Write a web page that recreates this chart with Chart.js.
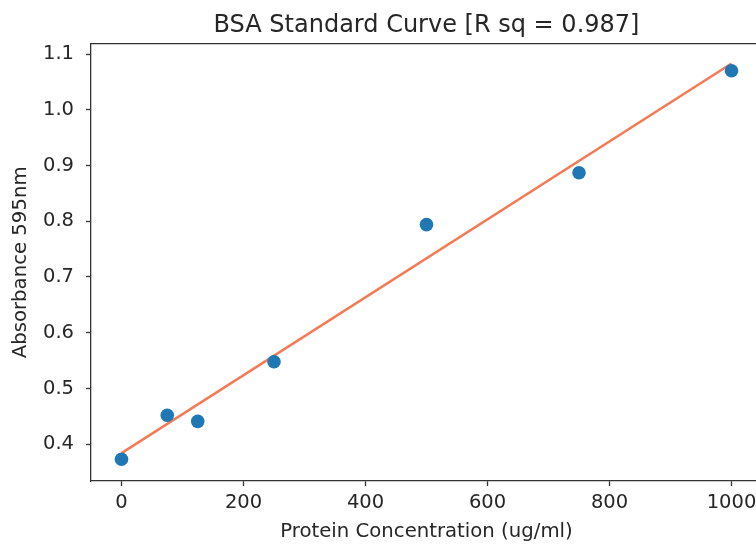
<!DOCTYPE html>
<html>
<head>
<meta charset="utf-8">
<script src="https://cdn.jsdelivr.net/npm/chart.js@4"></script>
<style>
  html, body { margin: 0; padding: 0; overflow: hidden; background: #fff; }
  #wrap { width: 853px; height: 544px; }
</style>
</head>
<body>
<div id="wrap"><canvas id="c" width="853" height="544"></canvas></div>
<script>
// Data
const concentrations = [0, 75, 125, 250, 500, 750, 1000];
const absorbance = [0.373, 0.452, 0.441, 0.548, 0.794, 0.887, 1.070];
const fitX = [0, 1000];
const fitY = [0.384, 1.083];
const xTicks = [0, 200, 400, 600, 800, 1000];
const yTicks = [0.4, 0.5, 0.6, 0.7, 0.8, 0.9, 1.0, 1.1];
const titleText = 'BSA Standard Curve [R sq = 0.987]';
const xLabel = 'Protein Concentration (ug/ml)';
const yLabel = 'Absorbance 595nm';

const FONT = "'DejaVu Sans', sans-serif";
const TEXT = '#262626';
const AXIS = '#333333';

const framePlugin = {
  id: 'frame',
  afterDraw(chart) {
    const a = chart.chartArea, ctx = chart.ctx;
    ctx.save();
    ctx.strokeStyle = AXIS;
    ctx.lineWidth = 1.3;
    ctx.beginPath();
    ctx.moveTo(a.left, a.top);
    ctx.lineTo(a.right, a.top);
    ctx.lineTo(a.right, a.bottom);
    ctx.stroke();
    ctx.restore();
  }
};

new Chart(document.getElementById('c'), {
  type: 'scatter',
  data: {
    datasets: [
      {
        label: 'data',
        data: concentrations.map((x, i) => ({x: x, y: absorbance[i]})),
        backgroundColor: '#1f77b4',
        borderColor: '#1f77b4',
        pointRadius: 6.8,
        pointHoverRadius: 6.8,
        borderWidth: 0,
        order: 0
      },
      {
        label: 'fit',
        data: fitX.map((x, i) => ({x: x, y: fitY[i]})),
        showLine: true,
        borderColor: '#f47a55',
        backgroundColor: '#f47a55',
        borderWidth: 2.5,
        pointRadius: 0,
        fill: false,
        order: 1
      }
    ]
  },
  options: {
    responsive: false,
    animation: false,
    layout: { padding: { left: 0, right: 91, top: 0, bottom: 0 } },
    plugins: {
      legend: { display: false },
      tooltip: { enabled: false },
      title: {
        display: true,
        fullSize: false,
        text: titleText,
        color: TEXT,
        font: { family: FONT, size: 24, weight: 'normal', lineHeight: 1.2 },
        padding: { top: 11.5, bottom: 3.4 }
      }
    },
    scales: {
      x: {
        type: 'linear',
        min: -50,
        max: 1050,
        afterBuildTicks: (s) => { s.ticks = xTicks.map(v => ({value: v})); },
        afterFit: (s) => { s.height = 63; },
        grid: { display: true, drawOnChartArea: false, drawTicks: true, tickLength: 5, tickWidth: 1.3, tickColor: AXIS },
        border: { display: true, color: AXIS, width: 1.3 },
        ticks: {
          color: TEXT,
          padding: 5,
          maxRotation: 0,
          font: { family: FONT, size: 19.5, lineHeight: 1.2 },
          callback: (v) => String(v)
        },
        title: {
          display: true,
          text: xLabel,
          color: TEXT,
          font: { family: FONT, size: 19.7, lineHeight: 1.2 },
          padding: { top: 0, bottom: 0 }
        }
      },
      y: {
        type: 'linear',
        min: 0.334,
        max: 1.1185,
        afterBuildTicks: (s) => { s.ticks = yTicks.map(v => ({value: v})); },
        afterFit: (s) => { s.width = 91; },
        grid: { display: true, drawOnChartArea: false, drawTicks: true, tickLength: 5, tickWidth: 1.3, tickColor: AXIS },
        border: { display: true, color: AXIS, width: 1.3 },
        ticks: {
          color: TEXT,
          padding: 12,
          font: { family: FONT, size: 19.5, lineHeight: 1.0 },
          callback: (v) => Number(v).toFixed(1)
        },
        title: {
          display: true,
          text: yLabel,
          color: TEXT,
          font: { family: FONT, size: 19.7, lineHeight: 1.2 },
          padding: { top: 9, bottom: 0 }
        }
      }
    }
  },
  plugins: [framePlugin]
});
</script>
</body>
</html>
